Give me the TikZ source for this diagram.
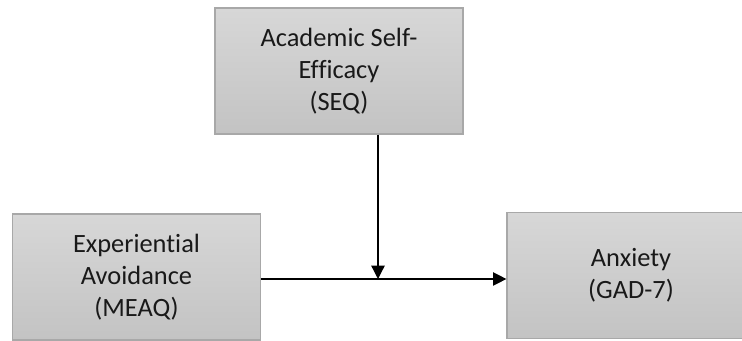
\documentclass[tikz,border=0pt]{standalone}
\usepackage{fontspec}
\setmainfont[Ligatures=NoCommon]{Carlito}
\usetikzlibrary{arrows.meta,calc}
\definecolor{boxtop}{HTML}{D7D7D7}
\definecolor{boxbot}{HTML}{C3C3C3}
\definecolor{boxline}{HTML}{A8A8A8}
\tikzset{
  varbox/.style={draw=boxline, line width=0.9pt, top color=boxtop, bottom color=boxbot,
    minimum width=186pt, minimum height=94.5pt, align=center, inner sep=0pt,
    font=\fontsize{19.8pt}{24.2pt}\selectfont, text=black!90},
  conn/.style={line width=1pt, -{Triangle[length=10pt,width=10pt]}},
}
\begin{document}
\begin{tikzpicture}[x=0.75pt,y=-0.75pt]
\useasboundingbox (0,0) rectangle (742,341);
\node[varbox] (seq) at (339,71) {Academic Self-\\Efficacy\\(SEQ)};
\node[varbox] (ea) at (136.5,277) {Experiential\\Avoidance\\(MEAQ)};
\node[varbox] (anx) at (631,275.5) {Anxiety\\(GAD-7)};
\coordinate (j) at (378,279);
\draw[conn] (seq.south -| j) -- (j);
\draw[conn] (ea.east |- j) -- (anx.west |- j);
\end{tikzpicture}
\end{document}
